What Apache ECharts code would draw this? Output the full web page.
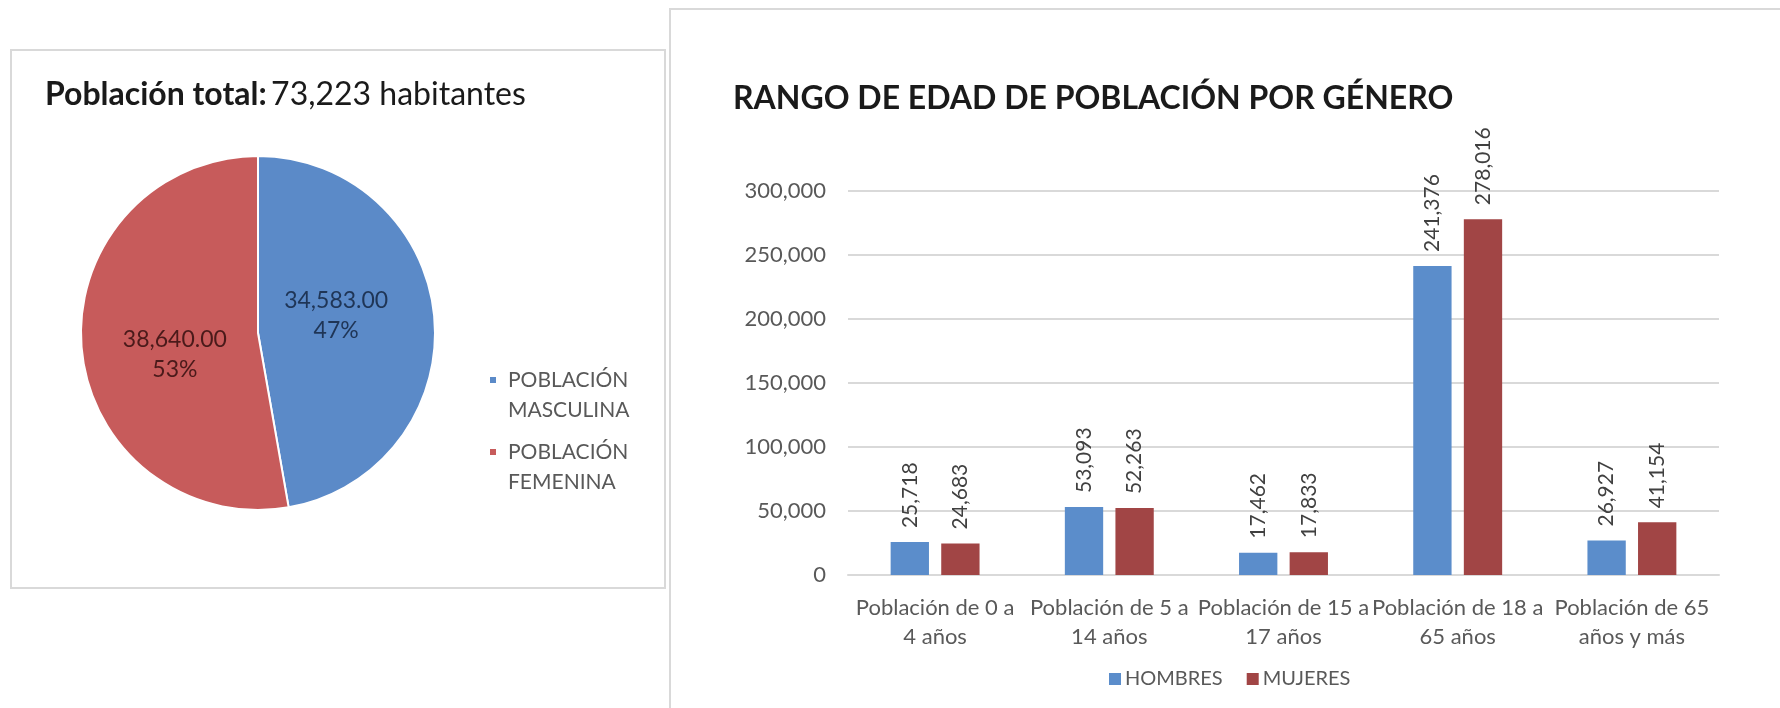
<!DOCTYPE html>
<html>
<head>
<meta charset="utf-8">
<script src="https://cdn.jsdelivr.net/npm/echarts@6/dist/echarts.min.js"></script>
<style>
  html, body { margin: 0; padding: 0; background: #fff; }
  #chart { width: 1780px; height: 708px; }
</style>
</head>
<body>
<div id="chart"></div>
<script>
// pie: total population by gender
const pieNames = ['POBLACIÓN MASCULINA', 'POBLACIÓN FEMENINA']
const pieValues = [34583, 38640]

// bars: age range by gender
const ageRanges = [
  'Población de 0 a\n4 años',
  'Población de 5 a\n14 años',
  'Población de 15 a\n17 años',
  'Población de 18 a\n65 años',
  'Población de 65\naños y más'
]
const hombres = [25718, 53093, 17462, 241376, 26927]
const mujeres = [24683, 52263, 17833, 278016, 41154]
const yTicks = [0, 50000, 100000, 150000, 200000, 250000, 300000]

const FONT = 'Lato'
const fmt = n => n.toLocaleString('en-US')

let chart = echarts.init(document.getElementById('chart'))

const barLabel = {
  show: true,
  position: 'top',
  rotate: 90,
  align: 'left',
  verticalAlign: 'middle',
  distance: 14,
  color: '#404040',
  fontFamily: FONT,
  fontSize: 21,
  formatter: p => fmt(p.value)
}

let option = {
  animation: false,
  textStyle: { fontFamily: FONT },
  graphic: [
    {
      type: 'rect',
      z: -10,
      shape: { x: 11, y: 50, width: 654, height: 538 },
      style: { fill: '#fff', stroke: '#d9d9d9', lineWidth: 2 }
    },
    {
      type: 'rect',
      z: -10,
      shape: { x: 670, y: 9, width: 1200, height: 800 },
      style: { fill: '#fff', stroke: '#d9d9d9', lineWidth: 2 }
    }
  ],
  title: [
    {
      text: '{b|Población total:} {r|73,223 habitantes}',
      left: 40,
      top: 74,
      textStyle: {
        rich: {
          b: { fontFamily: FONT, fontWeight: 'bold', fontSize: 32, color: '#1a1a1a' },
          r: { fontFamily: FONT, fontWeight: 'normal', fontSize: 32, color: '#1a1a1a' }
        }
      }
    },
    {
      text: 'RANGO DE EDAD DE POBLACIÓN POR GÉNERO',
      left: 728,
      top: 78,
      textStyle: { fontFamily: FONT, fontWeight: 'bold', fontSize: 32, color: '#1a1a1a' }
    }
  ],
  legend: [
    {
      data: pieNames,
      orient: 'vertical',
      left: 488,
      top: 364,
      padding: 0,
      itemWidth: 8,
      itemHeight: 60,
      itemGap: 10,
      icon: 'path://M0,11h8v8h-8z M0,0h0.01v0.01h-0.01z M0,60h0.01v0.01h-0.01z',
      formatter: name => name.replace(' ', '\n'),
      textStyle: { color: '#595959', fontSize: 21, lineHeight: 30, fontFamily: FONT, padding: [0, 0, 0, 6] }
    },
    {
      data: ['HOMBRES', 'MUJERES'],
      left: 1104,
      top: 664,
      itemWidth: 12,
      itemHeight: 12,
      itemGap: 24,
      icon: 'rect',
      textStyle: { color: '#595959', fontSize: 20, fontFamily: FONT, padding: [0, 0, 0, -1] }
    }
  ],
  grid: { left: 848, right: 61, top: 191, bottom: 133 },
  xAxis: {
    type: 'category',
    data: ageRanges,
    axisTick: { show: false },
    axisLine: { lineStyle: { color: '#d9d9d9', width: 2 } },
    axisLabel: {
      interval: 0,
      color: '#595959',
      fontSize: 22,
      lineHeight: 29,
      margin: 18,
      fontFamily: FONT
    }
  },
  yAxis: {
    type: 'value',
    min: 0,
    max: 300000,
    interval: 50000,
    axisLine: { show: false },
    axisTick: { show: false },
    splitLine: { lineStyle: { color: '#d9d9d9', width: 2 } },
    axisLabel: {
      color: '#595959',
      fontSize: 22,
      margin: 22,
      fontFamily: FONT,
      formatter: v => yTicks.includes(v) ? fmt(v) : ''
    }
  },
  series: [
    {
      type: 'pie',
      center: [258, 333],
      radius: 177,
      startAngle: 90,
      clockwise: true,
      legendHoverLink: false,
      data: pieNames.map((name, i) => ({ name, value: pieValues[i] })),
      itemStyle: { borderColor: '#fff', borderWidth: 2 },
      color: ['#5b8ac8', '#c75b5b'],
      label: {
        show: true,
        position: 'inside',
        fontSize: 23,
        lineHeight: 30,
        fontFamily: FONT,
        formatter: p => p.value.toLocaleString('en-US', { minimumFractionDigits: 2 }) + '\n' + Math.round(p.percent) + '%'
      },
      labelLine: { show: false },
      emphasis: { disabled: true }
    },
    {
      name: 'HOMBRES',
      type: 'bar',
      data: hombres,
      barWidth: '22%',
      barGap: '32%',
      itemStyle: { color: '#5b8dcb' },
      label: barLabel
    },
    {
      name: 'MUJERES',
      type: 'bar',
      data: mujeres,
      barWidth: '22%',
      barGap: '32%',
      itemStyle: { color: '#a14545' },
      label: barLabel
    }
  ]
}

// dark tints for the pie labels, as in the picture, nudged to their spots
option.series[0].data[0].label = { color: '#1f3556', offset: [-13, -9] }
option.series[0].data[1].label = { color: '#4a1a1a', offset: [8, 14] }

chart.setOption(option)
</script>
</body>
</html>
